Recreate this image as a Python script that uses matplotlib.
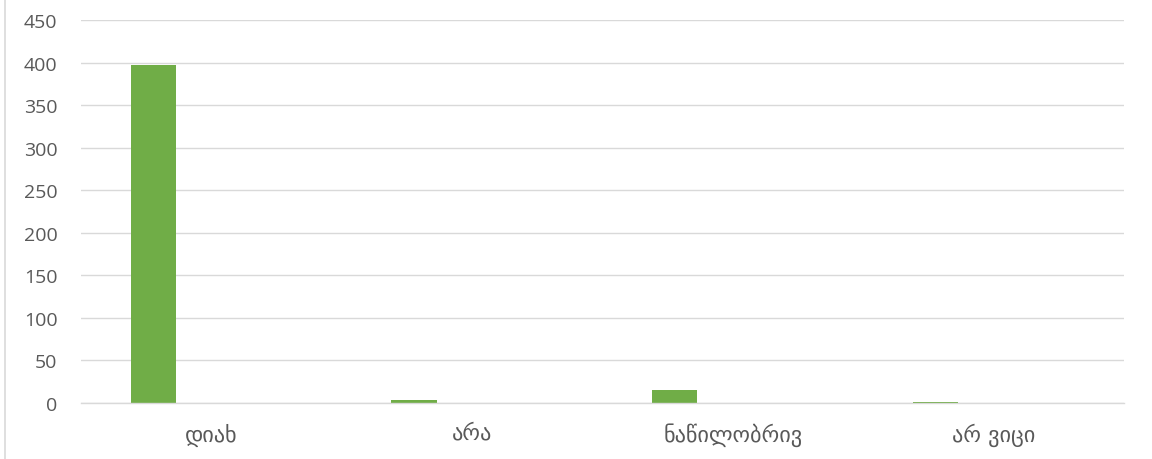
import matplotlib
matplotlib.use("Agg")
import matplotlib.pyplot as plt
import numpy as np
from matplotlib.lines import Line2D

categories = ["დიახ", "არა", "ნაწილობრივ", "არ ვიცი"]
values = [397, 3, 15, 1]
yticks = [0, 50, 100, 150, 200, 250, 300, 350, 400, 450]

plt.rcParams['font.family'] = ['Open Sans', 'DejaVu Sans']

fig = plt.figure(figsize=(11.52, 4.6), dpi=100)
ax = fig.add_axes([81/1152, 1-404/460, (1124-81)/1152, (404-21)/460])

x = np.arange(len(categories))
ax.bar(x - 0.2228, values, width=0.1737, color="#70AD47", zorder=3)

ax.set_xlim(-0.5, len(categories) - 0.5)
ax.set_ylim(0, 450)
ax.set_yticks(yticks)
ax.set_yticklabels([str(v) for v in yticks])
ax.set_xticks(x)
ax.set_xticklabels(categories, family=['DejaVu Sans'])

ax.grid(axis='y', color="#D9D9D9", linewidth=1, zorder=0)
for s in ['top', 'right', 'left']:
    ax.spines[s].set_visible(False)
ax.spines['bottom'].set_color("#D9D9D9")
ax.spines['bottom'].set_linewidth(1)
ax.spines['bottom'].set_zorder(4)

ax.tick_params(axis='y', length=0, pad=17, labelsize=14, labelcolor="#595959")
ax.tick_params(axis='x', length=0, pad=14, labelsize=16, labelcolor="#595959")

fig.add_artist(Line2D([5/1152, 5/1152], [0, 1], transform=fig.transFigure,
                      color="#D9D9D9", linewidth=1.2))

fig.savefig("out.png", dpi=100, facecolor="white")
